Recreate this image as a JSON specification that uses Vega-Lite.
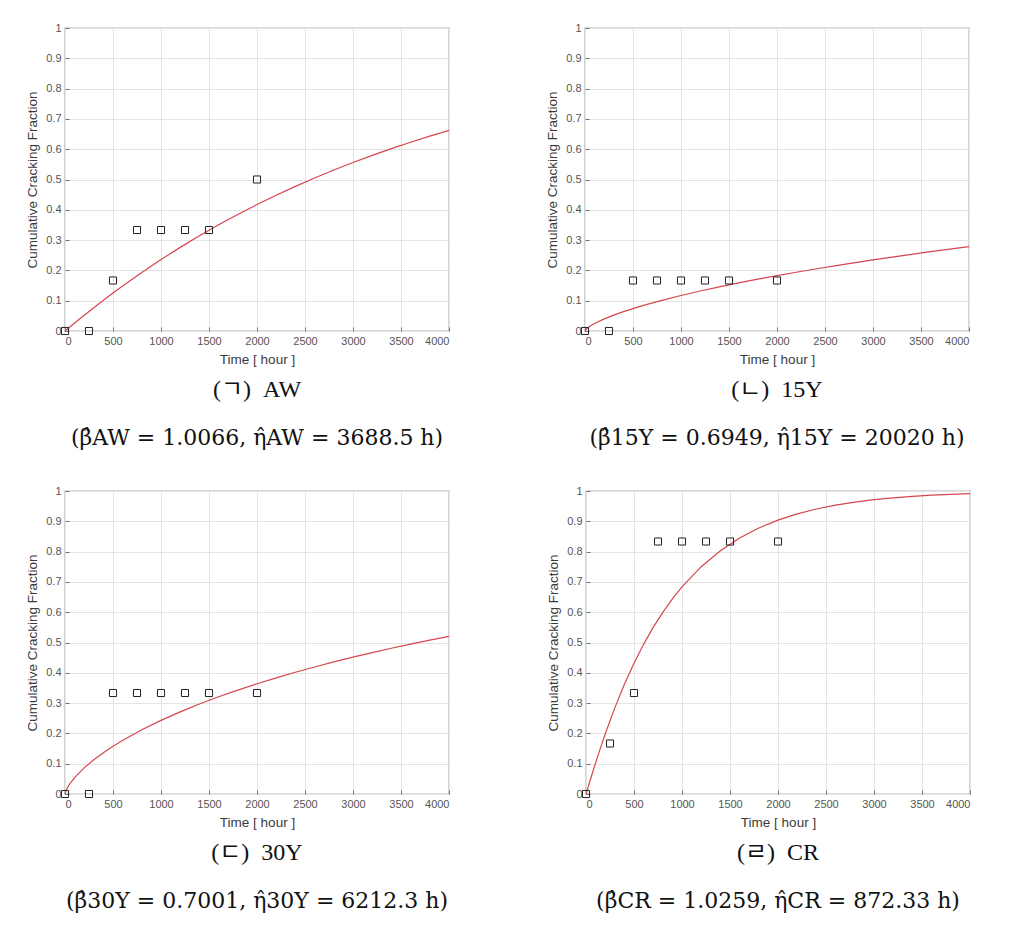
{
  "$schema": "https://vega.github.io/schema/vega-lite/v6.json",
  "padding": {"left": 25, "top": 21, "right": 5, "bottom": 5},
  "background": "white",
  "datasets": {
    "curves": [
      {"panel": "AW", "t": 0, "F": 0}, {"panel": "AW", "t": 100, "F": 0.02613}, {"panel": "AW", "t": 200, "F": 0.0518}, {"panel": "AW", "t": 300, "F": 0.07688}, {"panel": "AW", "t": 400, "F": 0.10136}, {"panel": "AW", "t": 500, "F": 0.12522}, {"panel": "AW", "t": 600, "F": 0.14848}, {"panel": "AW", "t": 800, "F": 0.19322}, {"panel": "AW", "t": 1000, "F": 0.23567}, {"panel": "AW", "t": 1200, "F": 0.27597}, {"panel": "AW", "t": 1400, "F": 0.31413}, {"panel": "AW", "t": 1600, "F": 0.3504}, {"panel": "AW", "t": 1800, "F": 0.38473}, {"panel": "AW", "t": 2000, "F": 0.41728}, {"panel": "AW", "t": 2200, "F": 0.44812}, {"panel": "AW", "t": 2400, "F": 0.47737}, {"panel": "AW", "t": 2600, "F": 0.50501}, {"panel": "AW", "t": 2800, "F": 0.53128}, {"panel": "AW", "t": 3000, "F": 0.55613}, {"panel": "AW", "t": 3200, "F": 0.57969}, {"panel": "AW", "t": 3400, "F": 0.60197}, {"panel": "AW", "t": 3600, "F": 0.62311}, {"panel": "AW", "t": 3800, "F": 0.64313}, {"panel": "AW", "t": 4000, "F": 0.66211},
      {"panel": "15Y", "t": 0, "F": 0}, {"panel": "15Y", "t": 10, "F": 0.005063}, {"panel": "15Y", "t": 25, "F": 0.009556}, {"panel": "15Y", "t": 50, "F": 0.015428}, {"panel": "15Y", "t": 100, "F": 0.024847}, {"panel": "15Y", "t": 200, "F": 0.039903}, {"panel": "15Y", "t": 300, "F": 0.052541}, {"panel": "15Y", "t": 400, "F": 0.063781}, {"panel": "15Y", "t": 500, "F": 0.074067}, {"panel": "15Y", "t": 600, "F": 0.083659}, {"panel": "15Y", "t": 800, "F": 0.10118}, {"panel": "15Y", "t": 1000, "F": 0.117171}, {"panel": "15Y", "t": 1200, "F": 0.131914}, {"panel": "15Y", "t": 1400, "F": 0.145689}, {"panel": "15Y", "t": 1600, "F": 0.158661}, {"panel": "15Y", "t": 1800, "F": 0.170965}, {"panel": "15Y", "t": 2000, "F": 0.1827}, {"panel": "15Y", "t": 2200, "F": 0.193878}, {"panel": "15Y", "t": 2400, "F": 0.20468}, {"panel": "15Y", "t": 2600, "F": 0.215042}, {"panel": "15Y", "t": 2800, "F": 0.225013}, {"panel": "15Y", "t": 3000, "F": 0.234627}, {"panel": "15Y", "t": 3200, "F": 0.243947}, {"panel": "15Y", "t": 3400, "F": 0.253034}, {"panel": "15Y", "t": 3600, "F": 0.261796}, {"panel": "15Y", "t": 3800, "F": 0.270254}, {"panel": "15Y", "t": 4000, "F": 0.278606},
      {"panel": "30Y", "t": 0, "F": 0}, {"panel": "30Y", "t": 10, "F": 0.011022}, {"panel": "30Y", "t": 25, "F": 0.020827}, {"panel": "30Y", "t": 50, "F": 0.033615}, {"panel": "30Y", "t": 100, "F": 0.054007}, {"panel": "30Y", "t": 200, "F": 0.086266}, {"panel": "30Y", "t": 300, "F": 0.112924}, {"panel": "30Y", "t": 400, "F": 0.136335}, {"panel": "30Y", "t": 500, "F": 0.157474}, {"panel": "30Y", "t": 600, "F": 0.176908}, {"panel": "30Y", "t": 800, "F": 0.211827}, {"panel": "30Y", "t": 1000, "F": 0.243033}, {"panel": "30Y", "t": 1200, "F": 0.271107}, {"panel": "30Y", "t": 1400, "F": 0.29691}, {"panel": "30Y", "t": 1600, "F": 0.320802}, {"panel": "30Y", "t": 1800, "F": 0.342973}, {"panel": "30Y", "t": 2000, "F": 0.363803}, {"panel": "30Y", "t": 2200, "F": 0.383395}, {"panel": "30Y", "t": 2400, "F": 0.401807}, {"panel": "30Y", "t": 2600, "F": 0.419268}, {"panel": "30Y", "t": 2800, "F": 0.43581}, {"panel": "30Y", "t": 3000, "F": 0.451579}, {"panel": "30Y", "t": 3200, "F": 0.466599}, {"panel": "30Y", "t": 3400, "F": 0.480943}, {"panel": "30Y", "t": 3600, "F": 0.49467}, {"panel": "30Y", "t": 3800, "F": 0.507765}, {"panel": "30Y", "t": 4000, "F": 0.52037},
      {"panel": "CR", "t": 0, "F": 0}, {"panel": "CR", "t": 50, "F": 0.051835}, {"panel": "CR", "t": 100, "F": 0.102717}, {"panel": "CR", "t": 150, "F": 0.151502}, {"panel": "CR", "t": 200, "F": 0.198066}, {"panel": "CR", "t": 300, "F": 0.284276}, {"panel": "CR", "t": 400, "F": 0.36198}, {"panel": "CR", "t": 500, "F": 0.431629}, {"panel": "CR", "t": 600, "F": 0.493956}, {"panel": "CR", "t": 700, "F": 0.549722}, {"panel": "CR", "t": 800, "F": 0.599485}, {"panel": "CR", "t": 900, "F": 0.643896}, {"panel": "CR", "t": 1000, "F": 0.683494}, {"panel": "CR", "t": 1200, "F": 0.750199}, {"panel": "CR", "t": 1400, "F": 0.803036}, {"panel": "CR", "t": 1600, "F": 0.844799}, {"panel": "CR", "t": 1800, "F": 0.877846}, {"panel": "CR", "t": 2000, "F": 0.903899}, {"panel": "CR", "t": 2200, "F": 0.924465}, {"panel": "CR", "t": 2400, "F": 0.940623}, {"panel": "CR", "t": 2600, "F": 0.953409}, {"panel": "CR", "t": 2800, "F": 0.963413}, {"panel": "CR", "t": 3000, "F": 0.971295}, {"panel": "CR", "t": 3200, "F": 0.977487}, {"panel": "CR", "t": 3400, "F": 0.982357}, {"panel": "CR", "t": 3600, "F": 0.986178}, {"panel": "CR", "t": 3800, "F": 0.989165}, {"panel": "CR", "t": 4000, "F": 0.99151}
    ],
    "obs": [
      {"panel": "AW", "t": 0, "F": 0}, {"panel": "AW", "t": 250, "F": 0}, {"panel": "AW", "t": 500, "F": 0.1667}, {"panel": "AW", "t": 750, "F": 0.3333}, {"panel": "AW", "t": 1000, "F": 0.3333}, {"panel": "AW", "t": 1250, "F": 0.3333}, {"panel": "AW", "t": 1500, "F": 0.3333}, {"panel": "AW", "t": 2000, "F": 0.5},
      {"panel": "15Y", "t": 0, "F": 0}, {"panel": "15Y", "t": 250, "F": 0}, {"panel": "15Y", "t": 500, "F": 0.1667}, {"panel": "15Y", "t": 750, "F": 0.1667}, {"panel": "15Y", "t": 1000, "F": 0.1667}, {"panel": "15Y", "t": 1250, "F": 0.1667}, {"panel": "15Y", "t": 1500, "F": 0.1667}, {"panel": "15Y", "t": 2000, "F": 0.1667},
      {"panel": "30Y", "t": 0, "F": 0}, {"panel": "30Y", "t": 250, "F": 0}, {"panel": "30Y", "t": 500, "F": 0.3333}, {"panel": "30Y", "t": 750, "F": 0.3333}, {"panel": "30Y", "t": 1000, "F": 0.3333}, {"panel": "30Y", "t": 1250, "F": 0.3333}, {"panel": "30Y", "t": 1500, "F": 0.3333}, {"panel": "30Y", "t": 2000, "F": 0.3333},
      {"panel": "CR", "t": 0, "F": 0}, {"panel": "CR", "t": 250, "F": 0.1667}, {"panel": "CR", "t": 500, "F": 0.3333}, {"panel": "CR", "t": 750, "F": 0.8333}, {"panel": "CR", "t": 1000, "F": 0.8333}, {"panel": "CR", "t": 1250, "F": 0.8333}, {"panel": "CR", "t": 1500, "F": 0.8333}, {"panel": "CR", "t": 2000, "F": 0.8333}
    ]
  },
  "config": {
    "view": {"stroke": "#6e6e6e", "strokeWidth": 1.2},
    "axis": {
      "labelFont": "Liberation Sans", "labelFontSize": 11, "labelColor": "#555555",
      "titleFont": "Liberation Sans", "titleFontSize": 13.5, "titleFontWeight": "normal", "titleColor": "#3a3a3a",
      "gridColor": "#e4e4e4", "gridWidth": 1, "domain": false, "ticks": true, "tickSize": -4, "tickColor": "#777777", "labelPadding": 8
    },
    "axisX": {"titlePadding": 6},
    "axisY": {"titlePadding": 6},
    "title": {
      "orient": "bottom", "anchor": "middle", "frame": "group",
      "font": "Liberation Serif, Noto Sans CJK KR", "fontSize": 24, "fontWeight": "normal", "color": "#111111",
      "subtitleFont": "DejaVu Serif", "subtitleFontSize": 22, "subtitleColor": "#111111", "subtitlePadding": 26, "offset": 12
    }
  },
  "spacing": 34,
  "vconcat": [
    {
      "spacing": 93,
      "hconcat": [
        {
          "width": 384, "height": 303,
          "title": {"text": "(ㄱ)\u2002AW", "subtitle": "(β̂AW = 1.0066,  η̂AW = 3688.5 h)"},
          "encoding": {"x": {"field": "t", "type": "quantitative", "scale": {"domain": [0, 4000], "nice": false}, "axis": {"title": "Time [ hour ]", "values": [0, 500, 1000, 1500, 2000, 2500, 3000, 3500, 4000], "format": "d"}},
                       "y": {"field": "F", "type": "quantitative", "scale": {"domain": [0, 1], "nice": false}, "axis": {"title": "Cumulative Cracking Fraction", "values": [0, 0.1, 0.2, 0.3, 0.4, 0.5, 0.6, 0.7, 0.8, 0.9, 1], "format": "~g"}}},
          "layer": [
            {"data": {"name": "curves"}, "transform": [{"filter": "datum.panel == 'AW'"}], "mark": {"type": "line", "color": "#d4474f", "strokeWidth": 1.2}},
            {"data": {"name": "obs"}, "transform": [{"filter": "datum.panel == 'AW'"}], "mark": {"type": "point", "shape": "square", "filled": false, "color": "#222222", "size": 50, "strokeWidth": 1, "opacity": 1}}
          ]
        },
        {
          "width": 384, "height": 303,
          "title": {"text": "(ㄴ)\u200215Y", "subtitle": "(β̂15Y = 0.6949,  η̂15Y = 20020 h)"},
          "encoding": {"x": {"field": "t", "type": "quantitative", "scale": {"domain": [0, 4000], "nice": false}, "axis": {"title": "Time [ hour ]", "values": [0, 500, 1000, 1500, 2000, 2500, 3000, 3500, 4000], "format": "d"}},
                       "y": {"field": "F", "type": "quantitative", "scale": {"domain": [0, 1], "nice": false}, "axis": {"title": "Cumulative Cracking Fraction", "values": [0, 0.1, 0.2, 0.3, 0.4, 0.5, 0.6, 0.7, 0.8, 0.9, 1], "format": "~g"}}},
          "layer": [
            {"data": {"name": "curves"}, "transform": [{"filter": "datum.panel == '15Y'"}], "mark": {"type": "line", "color": "#d4474f", "strokeWidth": 1.2}},
            {"data": {"name": "obs"}, "transform": [{"filter": "datum.panel == '15Y'"}], "mark": {"type": "point", "shape": "square", "filled": false, "color": "#222222", "size": 50, "strokeWidth": 1, "opacity": 1}}
          ]
        }
      ]
    },
    {
      "spacing": 93,
      "hconcat": [
        {
          "width": 384, "height": 303,
          "title": {"text": "(ㄷ)\u200230Y", "subtitle": "(β̂30Y = 0.7001,  η̂30Y = 6212.3 h)"},
          "encoding": {"x": {"field": "t", "type": "quantitative", "scale": {"domain": [0, 4000], "nice": false}, "axis": {"title": "Time [ hour ]", "values": [0, 500, 1000, 1500, 2000, 2500, 3000, 3500, 4000], "format": "d"}},
                       "y": {"field": "F", "type": "quantitative", "scale": {"domain": [0, 1], "nice": false}, "axis": {"title": "Cumulative Cracking Fraction", "values": [0, 0.1, 0.2, 0.3, 0.4, 0.5, 0.6, 0.7, 0.8, 0.9, 1], "format": "~g"}}},
          "layer": [
            {"data": {"name": "curves"}, "transform": [{"filter": "datum.panel == '30Y'"}], "mark": {"type": "line", "color": "#d4474f", "strokeWidth": 1.2}},
            {"data": {"name": "obs"}, "transform": [{"filter": "datum.panel == '30Y'"}], "mark": {"type": "point", "shape": "square", "filled": false, "color": "#222222", "size": 50, "strokeWidth": 1, "opacity": 1}}
          ]
        },
        {
          "width": 384, "height": 303,
          "title": {"text": "(ㄹ)\u2002CR", "subtitle": "(β̂CR = 1.0259,  η̂CR = 872.33 h)"},
          "encoding": {"x": {"field": "t", "type": "quantitative", "scale": {"domain": [0, 4000], "nice": false}, "axis": {"title": "Time [ hour ]", "values": [0, 500, 1000, 1500, 2000, 2500, 3000, 3500, 4000], "format": "d"}},
                       "y": {"field": "F", "type": "quantitative", "scale": {"domain": [0, 1], "nice": false}, "axis": {"title": "Cumulative Cracking Fraction", "values": [0, 0.1, 0.2, 0.3, 0.4, 0.5, 0.6, 0.7, 0.8, 0.9, 1], "format": "~g"}}},
          "layer": [
            {"data": {"name": "curves"}, "transform": [{"filter": "datum.panel == 'CR'"}], "mark": {"type": "line", "color": "#d4474f", "strokeWidth": 1.2}},
            {"data": {"name": "obs"}, "transform": [{"filter": "datum.panel == 'CR'"}], "mark": {"type": "point", "shape": "square", "filled": false, "color": "#222222", "size": 50, "strokeWidth": 1, "opacity": 1}}
          ]
        }
      ]
    }
  ]
}
